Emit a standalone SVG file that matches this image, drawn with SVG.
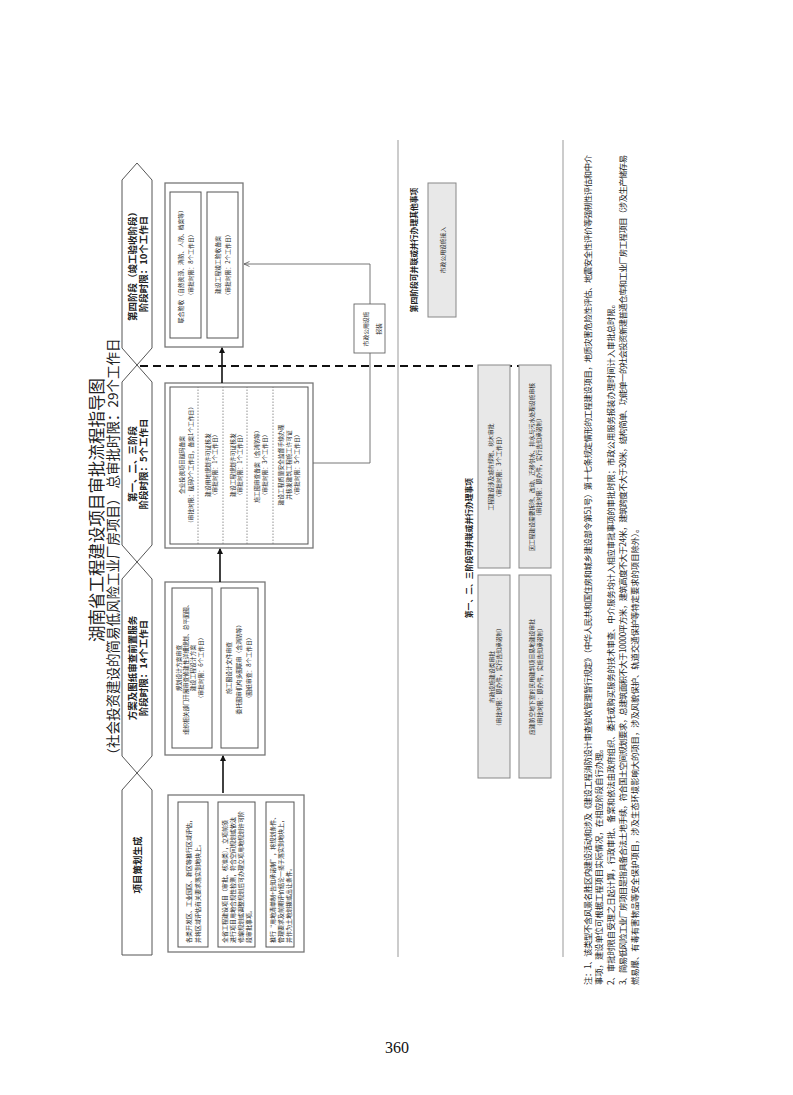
<svg xmlns="http://www.w3.org/2000/svg" width="793" height="1095" viewBox="0 0 793 1095">
<style>
text{font-family:"Noto Sans CJK SC","Noto Sans",sans-serif;fill:#222}
.t{font-size:16.5px}
.st{font-size:13.5px}
.h{font-size:9.5px;font-weight:bold;text-anchor:middle;dominant-baseline:central}
.s{font-size:5.8px;text-anchor:middle;dominant-baseline:central}
.sl{font-size:6px;dominant-baseline:central}
.ph{font-size:7.8px;font-weight:bold;text-anchor:middle;dominant-baseline:central}
.n{font-size:8.3px;dominant-baseline:central}
.hex{fill:#fff;stroke:#555;stroke-width:1}
.ob{fill:#fff;stroke:#777;stroke-width:1.3}
.ib{fill:#fff;stroke:#555;stroke-width:1}
.gb{fill:#e8e8e8;stroke:#888;stroke-width:1}
.sep{stroke:#777;stroke-width:0.8;stroke-dasharray:1.5,1.5}
.ar{stroke:#111;stroke-width:1.6;fill:none}
.thin{stroke:#666;stroke-width:0.9;fill:none}
.gl{stroke:#999;stroke-width:1}
</style>
<defs>
<marker id="ah" markerWidth="6" markerHeight="6" refX="5" refY="3" orient="auto" markerUnits="userSpaceOnUse"><path d="M0,0 L6,3 L0,6 z" fill="#111"/></marker>
<marker id="oa" markerWidth="6" markerHeight="6" refX="5.5" refY="3" orient="auto" markerUnits="userSpaceOnUse"><path d="M0,0.5 L5.5,3 L0,5.5" fill="none" stroke="#555" stroke-width="0.8"/></marker>
</defs>
<g transform="translate(0,1095) rotate(-90)">
<g id="title">
<text class="t" x="585" y="96" text-anchor="middle" dominant-baseline="central">湖南省工程建设项目审批流程指导图</text>
<text class="st" x="545" y="112" text-anchor="middle" dominant-baseline="central">（社会投资建设的简易低风险工业厂房项目）  总审批时限：29个工作日</text>
</g>
<g id="stage-headers">
<g id="h1"><path class="hex" d="M140,122 L305,122 L322,137 L305,152 L140,152 Z"/><text class="h" x="230" y="137">项目策划生成</text></g>
<g id="h2"><path class="hex" d="M322,137 L339,122 L516,122 L533,137 L516,152 L339,152 Z"/><text class="h" x="427" y="132">方案及图纸审查前置服务</text><text class="h" x="427" y="143">阶段时限：14个工作日</text></g>
<g id="h3"><path class="hex" d="M533,137 L550,122 L713,122 L730,137 L713,152 L550,152 Z"/><text class="h" x="631" y="132">第一、二、三阶段</text><text class="h" x="631" y="143">阶段时限：5个工作日</text></g>
<g id="h4"><path class="hex" d="M730,137 L747,122 L915,122 L932,137 L915,152 L747,152 Z"/><text class="h" x="831" y="132">第四阶段（竣工验收阶段）</text><text class="h" x="831" y="143">阶段时限：10个工作日</text></g>
</g>
<g id="stage1">
<rect class="ob" x="143" y="168" width="157" height="136"/>
<rect class="ib" x="148" y="178" width="145" height="30"/>
<text class="sl" x="152" y="188">各类开发区、工业园区、新区等推行区域评估，</text>
<text class="sl" x="152" y="197">并将区域评估有关要求落实到地块上。</text>
<rect class="ib" x="148" y="218" width="145" height="37"/>
<text class="sl" x="152" y="224">全省工程建设项目（审批、核准类），立项前须</text>
<text class="sl" x="152" y="232">进行项目用地合规性检测，符合空间规划或依法</text>
<text class="sl" x="152" y="240">修编规划或调整规划后可办理立项用地规划许可阶</text>
<text class="sl" x="152" y="248">段审批事项。</text>
<rect class="ib" x="148" y="266" width="145" height="28"/>
<text class="sl" x="152" y="272">推行“用地清单制+告知承诺制”，将规划条件、</text>
<text class="sl" x="152" y="280">管理要求及前期评价结论一揽子落实到地块上，</text>
<text class="sl" x="152" y="288">并作为土地划拨或出让条件。</text>
</g>
<g id="stage2">
<rect class="ob" x="340" y="165" width="173" height="100"/>
<rect class="ib" x="347" y="172" width="160" height="40"/>
<text class="s" x="427" y="178">规划设计方案审查</text>
<text class="s" x="427" y="185">组织相关部门开展审查修建性详细规划、总平面图、</text>
<text class="s" x="427" y="192">建设工程设计方案</text>
<text class="s" x="427" y="200">（审批时限：6个工作日）</text>
<rect class="ib" x="347" y="221" width="160" height="37"/>
<text class="s" x="427" y="228">施工图设计文件审查</text>
<text class="s" x="427" y="238">委托图审机构多图联审（含消防等）</text>
<text class="s" x="427" y="248">（图纸审查：8个工作日）</text>
</g>
<g id="stage3">
<rect class="ob" x="547" y="165" width="165" height="148"/>
<rect class="ib" x="551" y="170" width="157" height="138"/>
<line class="sep" x1="551" y1="198" x2="708" y2="198"/>
<line class="sep" x1="551" y1="223" x2="708" y2="223"/>
<line class="sep" x1="551" y1="247" x2="708" y2="247"/>
<line class="sep" x1="551" y1="273" x2="708" y2="273"/>
<text class="s" x="630" y="181">企业投资项目赋码备案</text>
<text class="s" x="630" y="190">（审批时限：赋码0个工作日，备案1个工作日）</text>
<text class="s" x="630" y="207">建设用地规划许可证核发</text>
<text class="s" x="630" y="214">（审批时限：1个工作日）</text>
<text class="s" x="630" y="232">建设工程规划许可证核发</text>
<text class="s" x="630" y="239">（审批时限：1个工作日）</text>
<text class="s" x="630" y="256">施工图审查备案（含消防等）</text>
<text class="s" x="630" y="264">（审批时限：3个工作日）</text>
<text class="s" x="630" y="280">建设工程质量安全监督手续办理</text>
<text class="s" x="630" y="288">并核发建筑工程施工许可证</text>
<text class="s" x="630" y="296">（审批时限：5个工作日）</text>
</g>
<g id="stage4">
<rect class="ob" x="748" y="165" width="164" height="78"/>
<rect class="ib" x="757" y="170" width="146" height="31"/>
<text class="s" x="830" y="180">联合验收（自然资源、消防、人防、档案等）</text>
<text class="s" x="830" y="190">（审批时限：8个工作日）</text>
<rect class="ib" x="757" y="207" width="146" height="31"/>
<text class="s" x="830" y="217">建设工程竣工验收备案</text>
<text class="s" x="830" y="227">（审批时限：2个工作日）</text>
</g>
<g id="connectors">
<line class="ar" x1="302" y1="223" x2="339" y2="223" marker-end="url(#ah)"/>
<line class="ar" x1="513" y1="220" x2="546" y2="220" marker-end="url(#ah)"/>
<line class="ar" x1="712" y1="222" x2="747" y2="222" marker-end="url(#ah)"/>
<polyline class="thin" points="632,313 632,370 831,370 831,244" marker-end="url(#oa)"/>
<line x1="729" y1="140" x2="729" y2="537" stroke="#111" stroke-width="2" stroke-dasharray="8,5"/>
</g>
<g id="label-baozhuang">
<rect x="742" y="354" width="49" height="31" fill="#fff" stroke="#666" stroke-width="0.9"/>
<text class="s" x="766" y="365">市政公用设施</text>
<text class="s" x="766" y="378">报装</text>
</g>
<g id="dividers">
<line class="gl" x1="138" y1="398" x2="955" y2="398"/>
<line class="gl" x1="138" y1="563" x2="955" y2="563"/>
</g>
<g id="parallel-4">
<text class="ph" x="845" y="413">第四阶段可并联或并行办理其他事项</text>
<rect class="gb" x="778" y="428" width="134" height="28"/>
<text class="s" x="845" y="442">市政公用设施接入</text>
</g>
<g id="parallel-123">
<text class="ph" x="547" y="468">第一、二、三阶段可并联或并行办理事项</text>
<rect class="gb" x="527" y="478" width="203" height="32"/>
<text class="s" x="628" y="490">工程建设涉及城市绿地、树木审批</text>
<text class="s" x="628" y="498">（审批时限：3个工作日）</text>
<rect class="gb" x="317" y="478" width="203" height="32"/>
<text class="s" x="418" y="491">市政设施建设类审批</text>
<text class="s" x="418" y="498">（审批时限：即办件，实行告知承诺制）</text>
<rect class="gb" x="527" y="519" width="203" height="32"/>
<text class="s" x="628" y="531">因工程建设需要拆除、改动、迁移供水、排水与污水处理设施审核</text>
<text class="s" x="628" y="538">（审批时限：即办件，实行告知承诺制）</text>
<rect class="gb" x="317" y="519" width="203" height="32"/>
<text class="s" x="418" y="531">应建防空地下室的民用建筑项目易地建设审批</text>
<text class="s" x="418" y="539">（审批时限：即办件，实施告知承诺制）</text>
</g>
<g id="notes">
<text class="n" x="110" y="587" textLength="830" lengthAdjust="spacing">注：1、该类型不含风景名胜区内建设活动和涉及《建设工程消防设计审查验收管理暂行规定》（中华人民共和国住房和城乡建设部令第51号）第十七条规定情形的工程建设项目，地质灾害危险性评估、地震安全性评价等强制性评估和中介</text>
<text class="n" x="110" y="598">事项，建设单位可根据工程项目实际情况，在相应阶段自行办理。</text>
<text class="n" x="110" y="610">2、审批时限自受理之日起计算，行政审批、备案和依法由政府组织、委托或购买服务的技术审查、中介服务均计入相应审批事项的审批时限；市政公用服务报装办理时间计入审批总时限。</text>
<text class="n" x="110" y="622" textLength="830" lengthAdjust="spacing">3、简易低风险工业厂房项目是指具备合法土地手续，符合国土空间规划要求，总建筑面积不大于10000平方米，建筑高度不大于24米，建筑跨度不大于30米，结构简单、功能单一的社会投资新建普通仓库和工业厂房工程项目（涉及生产储存易</text>
<text class="n" x="110" y="634">燃易爆、有毒有害物品等安全保护项目，涉及生态环境影响大的项目，涉及风貌保护、轨道交通保护等特定要求的项目除外）。</text>
</g>
</g>
<text x="397" y="1053" text-anchor="middle" style="font-family:'Liberation Serif',serif;font-size:16px;fill:#111">360</text>
</svg>
